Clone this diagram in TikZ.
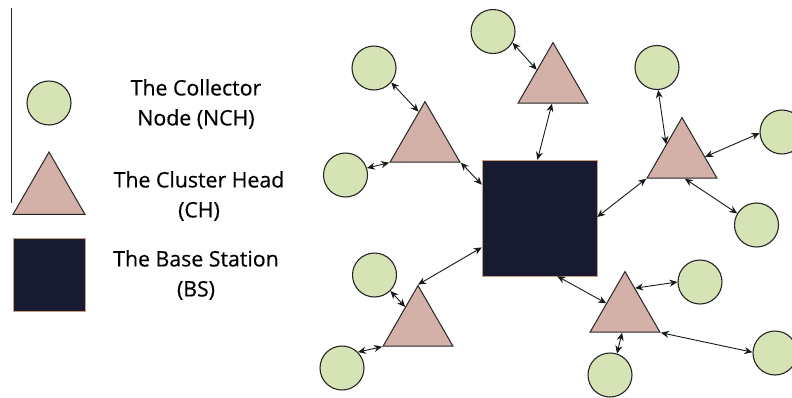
\documentclass[tikz,border=0pt]{standalone}
\usepackage{fontspec}
\setmainfont{Open Sans}
\newfontfamily\lblfont{Open Sans}[FakeBold=0.5]
\usetikzlibrary{shapes.geometric,arrows.meta}
\definecolor{cnode}{HTML}{D6E3B4}
\definecolor{chead}{HTML}{D3B0A8}
\definecolor{bstat}{HTML}{171A30}
\definecolor{bedge}{HTML}{C8A082}
\begin{document}
\begin{tikzpicture}[x=1pt,y=-1pt,
 coll/.style={circle,draw=black!85,fill=cnode,line width=1.1pt,minimum size=44pt,inner sep=0pt},
 head/.style={regular polygon,regular polygon sides=3,draw=black!85,fill=chead,line width=1pt,minimum size=80.8pt,inner sep=0pt},
 basest/.style={rectangle,fill=bstat,draw=bedge,line width=0.4pt,inner sep=0pt},
 link/.style={<->,>={Stealth[length=8pt,width=7pt]},line width=0.9pt,black!90},
 lbl/.style={font=\lblfont\fontsize{21.3}{30}\selectfont,align=center,inner sep=0pt}]
\useasboundingbox (0,0) rectangle (792,397);
\clip (0,0) rectangle (792,397);
% legend
\coordinate (LT) at (11,8);
\coordinate (LB) at (11,203);
\draw[line width=1pt,black!85] (LT) -- (LB);
\node[coll] (LC) at (49,103) {};
\node[head,minimum size=83.1pt] (LH) at (49,193.6) {};
\node[basest,minimum width=72pt,minimum height=73pt] (LS) at (49,274.5) {};
\node[lbl] (L1) at (196,104) {The Collector\\Node (NCH)};
\node[lbl] (L2) at (199,196) {The Cluster Head\\(CH)};
\node[lbl] (L3) at (196,275) {The Base Station\\(BS)};
% base station
\node[basest,minimum width=115pt,minimum height=116pt] (BS) at (539.5,218) {};
% cluster heads
\node[head] (T1) at (425,142) {};
\node[head] (T2) at (553,83) {};
\node[head] (T3) at (682,158) {};
\node[head] (T4) at (418,326) {};
\node[head] (T5) at (625,312) {};
% collector nodes
\node[coll] (C1) at (374,68) {};
\node[coll] (C2) at (345.5,175) {};
\node[coll] (C3) at (493,31.5) {};
\node[coll] (C4) at (657,67.5) {};
\node[coll] (C5) at (782,132) {};
\node[coll] (C6) at (756.5,225) {};
\node[coll] (C7) at (374.5,275) {};
\node[coll] (C8) at (342,368) {};
\node[coll] (C9) at (700,282) {};
\node[coll] (C10) at (775,353) {};
\node[coll] (C11) at (610,375) {};
% links
\draw[link] (C1.-40) -- (T1.102);
\draw[link] (C2.18) -- (T1.210);
\draw[link] (T1.330) -- (BS.150);
\draw[link] (C3.-30) -- (T2.141);
\draw[link] (T2.267) -- (BS.92);
\draw[link] (C4.-87) -- (T3.139);
\draw[link] (C5.183) -- (T3.3);
\draw[link] (C6.149) -- (T3.-82);
\draw[link] (T3.210) -- (BS.1);
\draw[link] (BS.207) -- (T4.90);
\draw[link] (C7.-45) -- (T4.124);
\draw[link] (C8.45) -- (T4.210);
\draw[link] (BS.-73) -- (T5.155);
\draw[link] (C9.180) -- (T5.67);
\draw[link] (C10.178) -- (T5.-30);
\draw[link] (C11.72) -- (T5.-98);
\end{tikzpicture}
\end{document}
